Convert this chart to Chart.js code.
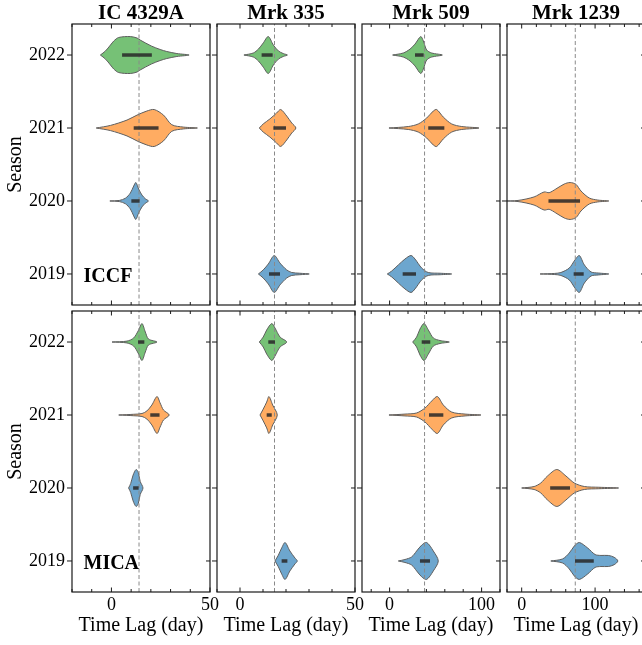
<!DOCTYPE html>
<html>
<head>
<meta charset="utf-8">
<title>Time lag violins</title>
<script src="https://cdn.jsdelivr.net/npm/chart.js@4.4.1/dist/chart.umd.min.js"></script>
<style>
  body { margin: 0; background: #fff; }
  #grid { position: relative; width: 642px; height: 645px; overflow: hidden; }
  #grid canvas { position: absolute; }
</style>
</head>
<body>
<div id="grid"></div>
<script>
const objects = ['IC 4329A', 'Mrk 335', 'Mrk 509', 'Mrk 1239'];
const methods = ['ICCF', 'MICA'];
const seasons = ['2019', '2020', '2021', '2022'];

// lag ranges and ticks per object column
const lagRange = [[-20, 50], [-10, 50], [-30, 120], [-20, 168]];
const lagTicks = [
  [-20, -10, 0, 10, 20, 30, 40, 50],
  [-10, 0, 10, 20, 30, 40, 50],
  [-20, 0, 20, 40, 60, 80, 100, 120],
  [-20, 0, 20, 40, 60, 80, 100, 120, 140, 160]
];
const lagLabels = [[0, 50], [0, 50], [0, 100], [0, 100]];
const refLag = [14, 15, 38, 73];

// one entry per violin: method, object, season, density profile and inner box
const vMethod = [0, 0, 0, 0, 0, 0, 0, 0, 0, 0, 0, 1, 1, 1, 1, 1, 1, 1, 1, 1, 1, 1];
const vObject = [0, 0, 0, 1, 1, 1, 2, 2, 2, 3, 3, 0, 0, 0, 1, 1, 1, 2, 2, 2, 3, 3];
const vSeason = ['2022', '2021', '2020', '2022', '2021', '2019', '2022', '2021', '2019', '2020', '2019',
                 '2022', '2021', '2020', '2022', '2021', '2019', '2022', '2021', '2019', '2020', '2019'];
const vLag = [
  [-5.6, -3, -0.5, 1.2, 3.7, 9.6, 13, 14.6, 20.2, 24.7, 28.1, 33.2, 39.4],
  [-7.7, -0.5, 7.9, 13, 18, 21.7, 26.4, 30.6, 36.5, 43.6],
  [-0.8, 4, 7.1, 9.6, 11.3, 12.4, 13.8, 15.5, 17.2, 18.8],
  [1.7, 5.8, 8, 10.1, 12.3, 14.5, 16.7, 18.8, 20.6],
  [8.4, 10.1, 13, 15.9, 17.7, 20.3, 22.5, 24.3],
  [8, 10.1, 12.3, 14.9, 17.4, 20.3, 22.5, 26, 30.1],
  [3.3, 14.9, 22.2, 27.6, 33.8, 36.7, 40.3, 45.7, 57.3],
  [-0.7, 20.3, 31.2, 40.3, 47.5, 51.2, 58.4, 67.5, 78.4, 97.2],
  [-2.5, 2.3, 9.5, 16.7, 23.3, 27.6, 34.9, 42, 55, 67.5],
  [-25, -5, 16.9, 30.6, 37.4, 46.6, 58, 66, 74, 80.8, 92.2, 103.7, 118.7],
  [25.1, 45, 53.4, 64.8, 72.6, 78.5, 85.4, 94.5, 105, 118.7],
  [0.3, 7.9, 11.3, 13.8, 15.5, 17.2, 18.8, 23.1],
  [3.7, 11.3, 15.5, 18, 20.5, 23.1, 24.7, 26.4, 29.3],
  [8.7, 9.8, 11, 12.5, 13.6, 14.6, 16],
  [8.4, 10.1, 11.6, 13.8, 15.2, 17.4, 20.3],
  [8.7, 10.1, 11.6, 12.6, 14.2, 16.2],
  [15.2, 16.7, 18.1, 19.6, 21.7, 23.9, 24.9],
  [25.1, 29.4, 33, 37.4, 42.1, 47.5, 54.8, 64.9],
  [-0.7, 16.7, 29.4, 38.5, 45.8, 51.9, 58.4, 67.5, 82, 99.3],
  [9.5, 16.7, 24, 29.4, 34.9, 40.3, 47.5, 52.9],
  [0, 16.9, 26, 35.2, 47.9, 60.3, 71.7, 85.4, 105, 132],
  [39.7, 55.7, 64.8, 71.7, 78.5, 90, 100, 108, 118, 126, 131]
];
const vDensity = [
  [0, .22, .54, .76, .95, 1, .92, .81, .49, .3, .19, .08, 0],
  [0, .14, .43, .7, .92, 1, .7, .18, .05, 0],
  [0, .03, .15, .43, .81, 1, .65, .32, .12, 0],
  [0, .11, .32, .65, 1, .54, .22, .08, 0],
  [0, .22, .49, .81, 1, .65, .27, 0],
  [0, .22, .54, 1, .59, .22, .08, .04, 0],
  [0, .11, .32, .59, 1, .76, .27, .11, 0],
  [0, .08, .22, .54, .92, 1, .59, .22, .08, 0],
  [0, .16, .49, .81, 1, .81, .32, .08, .04, 0],
  [0, .03, .22, .49, .45, .65, .92, 1, .9, .54, .16, .05, 0],
  [0, .03, .08, .32, .76, 1, .49, .11, .05, 0],
  [0, .05, .22, .65, 1, .54, .16, 0],
  [0, .04, .08, .22, .54, 1, .65, .27, 0],
  [0, .25, .7, 1, .85, .35, 0],
  [0, .27, .65, 1, .76, .27, 0],
  [0, .32, .7, 1, .54, 0],
  [0, .32, .7, 1, .54, .16, 0],
  [0, .27, .7, 1, .65, .22, .08, 0],
  [0, .05, .11, .38, .76, 1, .54, .16, .05, 0],
  [0, .08, .22, .54, .86, 1, .54, 0],
  [0, .08, .27, .65, 1, .65, .27, .08, .04, 0],
  [0, .11, .43, .81, 1, .7, .35, .3, .3, .2, 0]
];
const vBox = [
  [5.4, 20.5], [11.3, 23.9], [10.1, 14.3], [9.4, 14.2], [14.5, 20], [12.6, 17.4],
  [27.6, 37], [42, 59.5], [14.2, 28.7], [36.5, 79.5], [70.8, 84.5],
  [13.5, 16.7], [19.7, 24.4], [11, 13.8], [12.3, 15.2], [11.6, 13.8], [18.1, 20.6],
  [34.9, 44.2], [42.8, 58.4], [33, 43.9], [38.8, 65.8], [72.6, 98.2]
];

const palette = ['rgba(31,119,180,0.65)', 'rgba(255,127,14,0.65)', 'rgba(44,160,44,0.65)'];
const halfWidth = 0.253;
const yMin = -0.425, yMax = 3.425;

// panel boxes on the page
const colLeft = [72, 217, 362, 507];
const rowTop = [24, 311];
const panelW = 138, panelH = 281;
const edge = 20; // spare canvas margin round each panel

Chart.defaults.font.family = '"Liberation Serif", "Times New Roman", serif';
Chart.defaults.color = '#000';

// frame with inward ticks on all sides, plus the method tag in the first column
function framePlugin(major, tag) {
  return {
    id: 'frame',
    afterDatasetsDraw(chart) {
      const { ctx, chartArea: a, scales: { x, y } } = chart;
      ctx.save();
      ctx.strokeStyle = '#1a1a1a';
      ctx.lineWidth = 1;
      ctx.beginPath();
      x.ticks.forEach(t => {
        const px = x.getPixelForValue(t.value);
        const len = major.includes(t.value) ? 4.5 : 3;
        ctx.moveTo(px, a.top); ctx.lineTo(px, a.top + len);
        ctx.moveTo(px, a.bottom); ctx.lineTo(px, a.bottom - len);
      });
      y.ticks.forEach(t => {
        const py = y.getPixelForValue(t.value);
        ctx.moveTo(a.left - 5, py); ctx.lineTo(a.left, py);
        ctx.moveTo(a.right - 4, py); ctx.lineTo(a.right, py);
      });
      ctx.stroke();
      ctx.lineWidth = 1.2;
      ctx.strokeRect(a.left, a.top, a.right - a.left, a.bottom - a.top);
      if (tag) {
        ctx.font = 'bold 20px "Liberation Serif"';
        ctx.fillStyle = '#000';
        ctx.fillText(tag, a.left + 11.5, a.bottom - 23);
      }
      ctx.restore();
    }
  };
}

const grid = document.getElementById('grid');

methods.forEach((method, r) => {
  objects.forEach((obj, c) => {
    const idx = vMethod.map((m, i) => i).filter(i => vMethod[i] === r && vObject[i] === c);
    const present = idx.map(i => vSeason[i]).sort();
    const datasets = [];

    idx.forEach(i => {
      const yc = seasons.indexOf(vSeason[i]);
      const lag = vLag[i], den = vDensity[i];
      const upper = lag.map((x, k) => ({ x, y: yc + halfWidth * den[k] }));
      const lower = lag.map((x, k) => ({ x, y: yc - halfWidth * den[k] })).reverse().slice(1);
      datasets.push({
        data: upper.concat(lower),
        showLine: true,
        fill: 'shape',
        backgroundColor: palette[present.indexOf(vSeason[i])],
        borderColor: '#5e5e5e',
        borderWidth: 1,
        tension: 0.3,
        pointRadius: 0,
        order: 3
      });
      datasets.push({
        data: vBox[i].map(x => ({ x, y: yc })),
        showLine: true,
        borderColor: 'rgba(40,40,40,0.85)',
        borderWidth: 3.5,
        borderCapStyle: 'butt',
        pointRadius: 0,
        order: 1
      });
    });

    datasets.push({
      data: [{ x: refLag[c], y: yMin }, { x: refLag[c], y: yMax }],
      showLine: true,
      borderColor: '#8a8a8a',
      borderWidth: 1,
      borderDash: [4, 2.5],
      pointRadius: 0,
      order: 2
    });

    const showX = r === 1;
    const showY = c === 0;
    const padL = showY ? 0 : 12;
    const axisW = showY ? 72 : 0;
    const canvas = document.createElement('canvas');
    canvas.width = padL + axisW + panelW + 12;
    canvas.height = showX ? edge + panelH + 53 : 24 + panelH + edge;
    canvas.style.left = (colLeft[c] - axisW - padL) + 'px';
    canvas.style.top = (showX ? rowTop[1] - edge : 0) + 'px';
    grid.appendChild(canvas);

    new Chart(canvas, {
      type: 'scatter',
      data: { datasets },
      options: {
        responsive: false,
        animation: false,
        events: [],
        layout: {
          autoPadding: false,
          padding: { left: padL, right: 12, top: showX ? edge : 0, bottom: showX ? 0 : edge }
        },
        plugins: {
          legend: { display: false },
          tooltip: { enabled: false },
          title: {
            display: r === 0,
            text: obj,
            fullSize: false,
            color: '#000',
            font: { size: 21, weight: 'bold', lineHeight: 1 },
            padding: { top: 3, bottom: 0 }
          }
        },
        scales: {
          x: {
            type: 'linear',
            min: lagRange[c][0],
            max: lagRange[c][1],
            display: showX,
            grid: { display: false, drawTicks: false },
            border: { display: false },
            afterBuildTicks: ax => { ax.ticks = lagTicks[c].map(value => ({ value })); },
            afterFit: ax => { if (showX) ax.height = 53; },
            ticks: {
              autoSkip: false,
              maxRotation: 0,
              padding: 2,
              font: { size: 18 },
              callback: v => lagLabels[c].includes(v) ? String(v) : ''
            },
            title: {
              display: true,
              text: 'Time Lag (day)',
              font: { size: 20 },
              padding: { top: 0, bottom: 7 }
            }
          },
          y: {
            type: 'linear',
            min: yMin,
            max: yMax,
            display: showY,
            grid: { display: false, drawTicks: false },
            border: { display: false },
            afterBuildTicks: ax => { ax.ticks = seasons.map((s, k) => ({ value: k })); },
            afterFit: ax => { if (showY) ax.width = 72; },
            ticks: {
              autoSkip: false,
              padding: 7,
              font: { size: 18 },
              callback: v => seasons[v]
            },
            title: {
              display: true,
              text: 'Season',
              font: { size: 20 },
              padding: { top: 4, bottom: 0 }
            }
          }
        }
      },
      plugins: [framePlugin(lagLabels[c], showY ? method : null)]
    });
  });
});
</script>
</body>
</html>
